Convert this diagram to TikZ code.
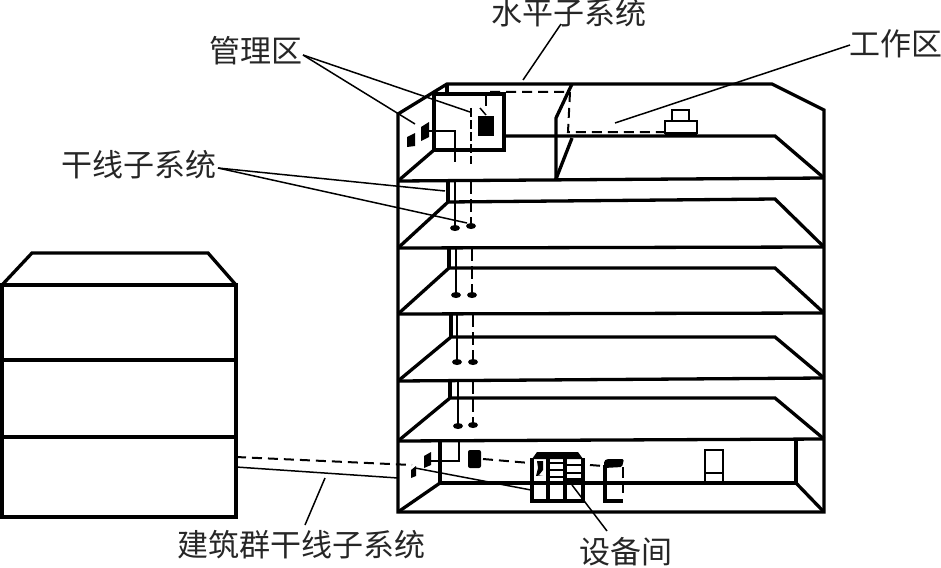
\documentclass[tikz,border=0pt]{standalone}
\usepackage{fontspec}
\newfontfamily\cjk{Noto Sans CJK SC}[Scale=1]
\usetikzlibrary{shapes.geometric}
\tikzset{
 wall/.style={line width=3.3pt,line join=miter},
 mid/.style={line width=2.5pt},
 thinl/.style={line width=1.5pt},
 dashl/.style={line width=2pt,dash pattern=on 10pt off 6pt},
 blk/.style={fill=black,draw=none},
 lab/.style={font=\cjk\fontsize{31}{33}\selectfont\color{black!85},inner sep=0pt},
 drop/.style={fill=black,draw=none,ellipse,minimum width=10pt,minimum height=6pt,inner sep=0pt}
}
\begin{document}
\begin{tikzpicture}[x=1pt,y=-1pt]
\useasboundingbox (0,0) rectangle (941,567);
% left building
\draw[wall] (2,285) rectangle (236,517);
\draw[wall] (2,285) -- (32,253) -- (208,253) -- (236,285);
\draw[wall] (2,360) -- (236,360);
\draw[wall] (2,437) -- (236,437);
% main building
\draw[wall] (398,512) -- (398,114) -- (447,84) -- (772,84) -- (824,110) -- (824,512) -- cycle;
% floors
\draw[wall] (398,181) -- (824,178);
\draw[wall] (398,248) -- (824,247);
\draw[wall] (398,314) -- (824,313);
\draw[wall] (398,381) -- (824,378);
\draw[wall] (398,441) -- (824,439);
\draw[wall] (398,181) -- (434,150);
\draw[wall] (504,136) -- (775,136) -- (824,178);
% top room
\draw[wall] (434,94) rectangle (504,150);
\draw[wall] (447,84) -- (447,94);
\draw[wall] (572,84) -- (556,118) -- (556,179);
\draw[wall] (556,179) -- (572,138);
% lower floor plates
\draw[wall] (398,248) -- (448,202) -- (775,199) -- (824,247);
\draw[wall] (448,181) -- (448,202);
\draw[wall] (398,314) -- (449,268) -- (775,268) -- (824,313);
\draw[wall] (449,248) -- (449,268);
\draw[wall] (398,381) -- (451,337) -- (775,337) -- (824,378);
\draw[wall] (451,314) -- (451,337);
\draw[wall] (398,441) -- (450,398) -- (775,398) -- (824,439);
\draw[wall] (450,381) -- (450,398);
% ground room
\draw[wall] (440,441) -- (440,483) -- (796,483) -- (796,440);
\draw[wall] (398,512) -- (440,483);
\draw[wall] (796,483) -- (824,512);
% risers
\foreach \xa/\xb/\ya/\yb/\yc in {455/471/181/228/226,456/472/248/295/295,457/473/314/362/362,458/473/381/426/425}{
 \draw[mid] (\xa,\ya) -- (\xa,\yb);
 \draw[mid,dash pattern=on 13pt off 5pt] (\xb,\ya) -- (\xb,\yc);
 \node[drop] at (\xa,\yb) {};
 \node[drop] at (\xb,\yc) {};
}
% top-room cabling
\fill[black] (407,137) -- (415,133) -- (415,146) -- (407,147) -- cycle;
\fill[black] (421,127) -- (429,122) -- (429,137) -- (421,141) -- cycle;
\node[blk,minimum width=16pt,minimum height=20pt,inner sep=0pt] (tbox) at (486,126) {};
\draw[mid] (429,131) -- (455,131) -- (455,162);
\draw[mid,dash pattern=on 9pt off 3pt] (471,108) -- (471,164);
\draw[mid] (486,94) -- (486,106);
\draw[thinl] (480,108) -- (486,115);
\draw[dashl] (490,92) -- (570,92) -- (568,132) -- (665,132);
% desk
\draw[mid] (665,121) rectangle (697,133);
\draw[mid] (672,110) rectangle (689,121);
\draw[wall] (665,134) -- (697,134);
% ground floor equipment
\fill[black] (411,470) -- (416,466) -- (416,476) -- (411,478) -- cycle;
\fill[black] (424,456) -- (431,452) -- (431,465) -- (424,468) -- cycle;
\draw[mid] (431,461) -- (459,461) -- (459,441);
\node[blk,rounded corners=2pt,minimum width=13pt,minimum height=18pt,inner sep=0pt] (gbox) at (474.5,459) {};
\draw[dashl] (483,459) -- (530,463);
\draw[dashl] (590,465) -- (603,466);
% rack
\fill[black] (532,459) -- (537,452) -- (578,452) -- (583,459) -- cycle;
\draw[wall] (532,458) -- (532,501) -- (583,501) -- (583,458);
\draw[wall] (548,458) -- (548,501);
\draw[wall] (565,458) -- (565,501);
\fill[black] (537,461) -- (543,461) -- (543,470) -- (539,475) -- (543,475) -- (536,476) -- (538,468) -- cycle;
\foreach \y in {463,470,477}{ \draw[mid] (548,\y) -- (565,\y); }
\foreach \y in {465,473,479}{ \draw[mid] (565,\y) -- (583,\y); }
\fill[black] (563,478) -- (583,478) -- (583,484) -- (563,484) -- cycle;
% cabinet
\fill[black,rounded corners=1.5pt] (604,468) -- (604,461) -- (607,459) -- (624,459) -- (622,467) -- cycle;
\draw[wall] (605,465) -- (605,501) -- (623,501);
\draw[mid,dash pattern=on 11pt off 4pt] (623,467) -- (623,496);
% door
\draw[mid] (705,450) rectangle (723,483);
\draw[mid] (705,473) -- (723,473);
% inter-building links
\draw[dashl] (236,457) -- (412,465);
\draw[thinl] (236,467) -- (398,478);
\draw[thinl] (415,468) -- (531,490);
% labels
\node[lab] (admin) at (256,51) {\cjk 管理区};
\node[lab] (horiz) at (569,13) {\cjk 水平子系统};
\node[lab] (work) at (896,44) {\cjk 工作区};
\node[lab] (riser) at (139,165) {\cjk 干线子系统};
\node[lab] (campus) at (301,545) {\cjk 建筑群干线子系统};
\node[lab] (equip) at (626,552) {\cjk 设备间};
\coordinate (a1) at (415,124); \coordinate (a2) at (470,112);
\coordinate (h1) at (523,80);
\coordinate (w1) at (615,123);
\coordinate (r1) at (445,191); \coordinate (r2) at (467,223);
\coordinate (c1) at (325,478);
\coordinate (e1) at (572,485);
\draw[thinl] (303,55) -- (a1);
\draw[thinl] (303,55) -- (a2);
\draw[thinl] (561,24) -- (h1);
\draw[thinl] (850,45) -- (w1);
\draw[thinl] (218,168) -- (r1);
\draw[thinl] (218,168) -- (r2);
\draw[thinl] (305,525) -- (c1);
\draw[thinl] (607,531) -- (e1);
\end{tikzpicture}
\end{document}
